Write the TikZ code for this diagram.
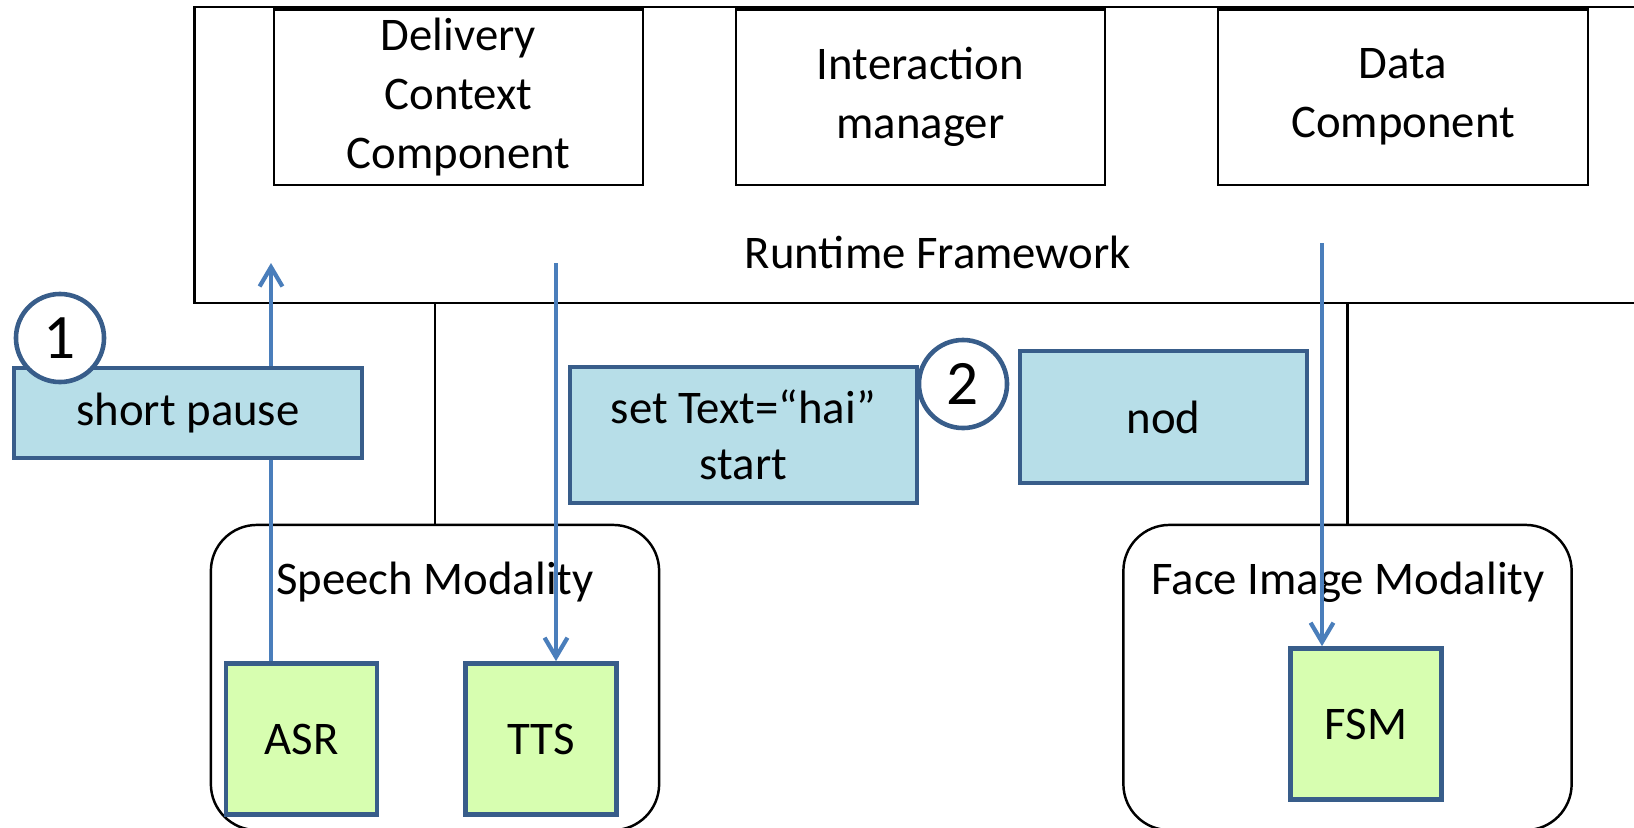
\documentclass[tikz,border=0pt]{standalone}
\usepackage{fontspec}
\setmainfont{Carlito}
\usepackage{xcolor}
\usepackage{tikz}
\usetikzlibrary{arrows.meta}
\definecolor{boxEdge}{HTML}{385D8A}
\definecolor{msgFill}{HTML}{B7DEE8}
\definecolor{unitFill}{HTML}{D7FEB0}
\definecolor{flowBlue}{HTML}{4A7EBB}
\tikzset{
  compBox/.style={draw=black, line width=0.6pt, inner sep=0pt, align=center,
    minimum width=3.69cm, minimum height=1.75cm, font=\fontsize{13.3}{16.8}\selectfont},
  modalBox/.style={draw=black, line width=0.7pt, rounded corners=0.46cm,
    minimum width=4.48cm, minimum height=3.05cm},
  msgBox/.style={draw=boxEdge, fill=msgFill, line width=1.3pt, inner sep=0pt, align=center},
  unitBox/.style={draw=boxEdge, fill=unitFill, line width=1.3pt, inner sep=0pt,
    minimum width=1.51cm, minimum height=1.51cm},
  stepNum/.style={circle, draw=boxEdge, fill=white, line width=1.3pt, inner sep=0pt,
    minimum size=0.88cm, font=\fontsize{18}{20}\selectfont},
  flow/.style={flowBlue, line width=1.2pt, -{Straight Barb[length=5.5pt,width=6.5pt]}}
}

\begin{document}
\begin{tikzpicture}[x=0.01cm, y=-0.01cm, font=\fontsize{13.3}{16}\selectfont]
    \useasboundingbox (0,0) rectangle (1634,827);
    \clip (0,0) rectangle (1634,827);
    \node[draw=black, line width=0.75pt, minimum width=15.05cm, minimum height=2.96cm] (framework) at (947.5,155) {};
    \node (rtLabel) at (938,252) {Runtime Framework};
    \node[compBox] (delivery) at (458.5,97) {Delivery\\Context\\Component};
    \node[compBox] (interaction) at (920.5,97) {Interaction\\manager};
    \node[compBox] (data) at (1403,97) {Data\\Component};
    \node[modalBox] (speech) at (435,677.5) {};
    \node (speechLabel) at (435,582) {Speech Modality};
    \node[modalBox] (face) at (1347.5,677.5) {};
    \node (faceLabel) at (1348,582) {Face Image Modality};
    \draw[line width=0.6pt] (framework.south -| speech.north) -- (speech.north);
    \draw[line width=0.6pt] (framework.south -| face.north) -- (face.north);
    \node[unitBox] (asr) at (301.5,739) {ASR};
    \node[unitBox] (tts) at (541,739) {TTS};
    \node[unitBox] (fsm) at (1366,724) {FSM};
    \coordinate (asrOut) at (271,263);
    \coordinate (ttsIn) at (556,263);
    \coordinate (fsmIn) at (1322,243);
    \draw[flow] (asr.north -| asrOut) -- (asrOut);
    \draw[flow] (ttsIn) -- (ttsIn |- tts.north);
    \draw[flow] (fsmIn) -- (fsmIn |- fsm.north);
    \node[msgBox, minimum width=3.48cm, minimum height=0.90cm] (pause) at (188,413) {\raisebox{-2pt}{short pause}};
    \node[msgBox, minimum width=3.47cm, minimum height=1.36cm] (setText) at (743.5,435) {set Text=“hai”\\start};
    \node[msgBox, minimum width=2.87cm, minimum height=1.32cm] (nod) at (1163.5,417) {nod};
    \node[stepNum] (stepOne) at (60,338) {1};
    \node[stepNum] (stepTwo) at (963,384) {2};
\end{tikzpicture}
\end{document}
